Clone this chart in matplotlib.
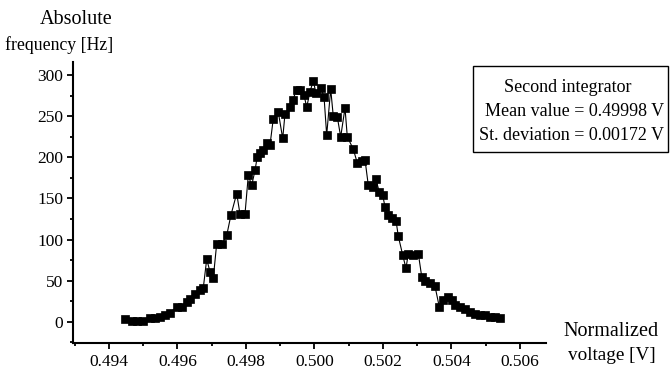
import matplotlib
matplotlib.use("Agg")
import matplotlib.pyplot as plt
from matplotlib.ticker import MultipleLocator, FormatStrFormatter

voltage = [0.494468, 0.494664, 0.494810, 0.495003, 0.495198, 0.495344, 0.495490, 0.495636,
           0.495782, 0.495978, 0.496124, 0.496270, 0.496366, 0.496512, 0.496658, 0.496754,
           0.496854, 0.496950, 0.497046, 0.497146, 0.497292, 0.497438, 0.497563, 0.497730,
           0.497826, 0.497972, 0.498068, 0.498168, 0.498264, 0.498331, 0.498410, 0.498506,
           0.498606, 0.498702, 0.498798, 0.498944, 0.499073, 0.499140, 0.499286, 0.499365,
           0.499482, 0.499578, 0.499694, 0.499774, 0.499870, 0.499966, 0.500045, 0.500182,
           0.500279, 0.500357, 0.500474, 0.500550, 0.500667, 0.500766, 0.500892, 0.500959,
           0.501134, 0.501251, 0.501379, 0.501476, 0.501572, 0.501700, 0.501788, 0.501893,
           0.501992, 0.502059, 0.502138, 0.502255, 0.502381, 0.502448, 0.502577, 0.502672,
           0.502740, 0.502886, 0.503032, 0.503131, 0.503228, 0.503374, 0.503520, 0.503645,
           0.503762, 0.503908, 0.504007, 0.504103, 0.504250, 0.504396, 0.504542, 0.504687,
           0.504833, 0.504979, 0.505125, 0.505271, 0.505417]
frequency = [3, 1, 1, 1, 4, 5, 6, 8,
             11, 18, 18, 24, 28, 34, 39, 41,
             76, 61, 53, 95, 94, 105, 130, 156,
             131, 131, 178, 166, 184, 201, 205, 209,
             218, 215, 247, 255, 223, 253, 261, 270,
             282, 282, 276, 261, 280, 293, 278, 284,
             274, 227, 283, 250, 249, 225, 260, 225,
             210, 193, 195, 197, 166, 164, 174, 158,
             154, 140, 130, 126, 123, 104, 81, 65,
             83, 81, 83, 55, 49, 47, 43, 18,
             26, 30, 26, 20, 18, 16, 12, 10,
             8, 8, 6, 6, 4]

x_ticks = [0.494, 0.496, 0.498, 0.500, 0.502, 0.504, 0.506]
y_ticks = [0, 50, 100, 150, 200, 250, 300]
box_title = "Second integrator"
box_lines = ["Mean value = 0.49998 V", "St. deviation = 0.00172 V"]

plt.rcParams['font.family'] = ['Liberation Serif', 'DejaVu Serif']

fig = plt.figure(figsize=(6.72, 3.69), dpi=100)
ax = fig.add_axes([0.1086, 0.0713, 0.8125 - 0.1086, 0.832 - 0.0713])

ax.plot(voltage, frequency, color='black', lw=0.8, marker='s', ms=5.8,
        mfc='black', mec='black', mew=0.5)

ax.set_xlim(0.49295, 0.50676)
ax.set_ylim(-25.5, 316)
ax.set_xticks(x_ticks)
ax.set_yticks(y_ticks)
ax.xaxis.set_major_formatter(FormatStrFormatter('%.3f'))
ax.xaxis.set_minor_locator(MultipleLocator(0.001))
ax.yaxis.set_minor_locator(MultipleLocator(25))
for s in ['top', 'right']:
    ax.spines[s].set_visible(False)
for s in ['left', 'bottom']:
    ax.spines[s].set_linewidth(1.5)
ax.tick_params(which='major', direction='out', length=4, width=1.3, labelsize=12.5, pad=3)
ax.tick_params(which='minor', direction='out', length=2.5, width=1.3)
ax.tick_params(axis='x', which='major', pad=4)

# Axis titles
fig.text(113 / 672, 1 - 20 / 369, "Absolute", ha='right', va='center', fontsize=14.5)
fig.text(113 / 672, 1 - 45 / 369, "frequency [Hz]", ha='right', va='center', fontsize=12.8)
fig.text(611 / 672, 1 - 331 / 369, "Normalized", ha='center', va='center', fontsize=14.5)
fig.text(612 / 672, 1 - 355 / 369, "voltage [V]", ha='center', va='center', fontsize=13.8)

# Annotation box
box = plt.Rectangle((473 / 672, 1 - 152 / 369), (668 - 473) / 672, (152 - 66) / 369,
                    transform=fig.transFigure, fill=False, ec='black', lw=1.0)
fig.patches.append(box)
fig.text(568 / 672, 1 - 88 / 369, box_title, ha='center', va='center', fontsize=13)
fig.text(664 / 672, 1 - 112 / 369, box_lines[0], ha='right', va='center', fontsize=13)
fig.text(664 / 672, 1 - 136 / 369, box_lines[1], ha='right', va='center', fontsize=13)

fig.savefig("out.png", dpi=100)
